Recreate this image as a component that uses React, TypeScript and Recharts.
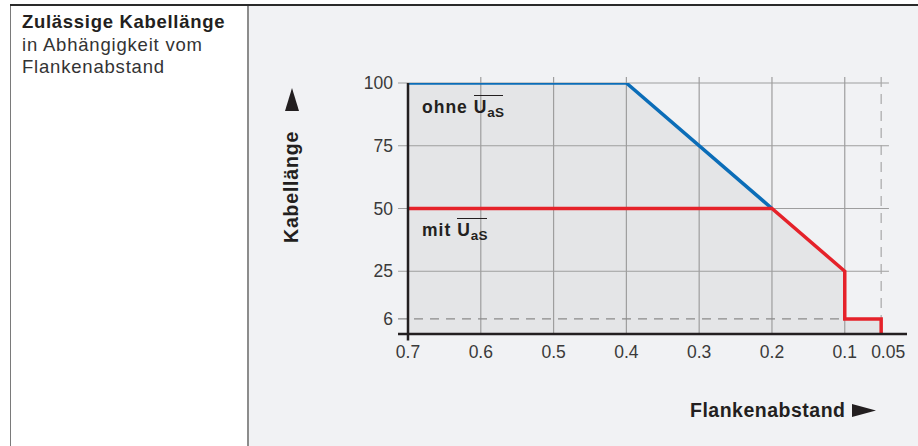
import { ComposedChart, Area, Line, XAxis, YAxis, ReferenceLine } from 'recharts';

// Flankenabstand (x) vs. Kabellänge (y)
const xTicks = [0.7, 0.6, 0.5, 0.4, 0.3, 0.2, 0.1, 0.05];
const yTicks = [6, 25, 50, 75, 100];
const gridXs = [0.6, 0.5, 0.4, 0.3, 0.2, 0.1];
const gridYs = [25, 50, 75, 100];

const ohneX = [0.7, 0.4, 0.2];
const ohneY = [100, 100, 50];
const mitX = [0.7, 0.2, 0.1, 0.1, 0.05, 0.05];
const mitY = [50, 50, 25, 6, 6, 0];
const envX = [0.7, 0.4, 0.2, 0.1, 0.1, 0.05, 0.05];
const envY = [100, 100, 50, 25, 6, 6, 0];

const ohneData = ohneX.map((x, i) => ({ x, y: ohneY[i] }));
const mitData = mitX.map((x, i) => ({ x, y: mitY[i] }));
const envData = envX.map((x, i) => ({ x, y: envY[i] }));

// overshoot of grid / axis lines, in data units
const X_MIN = 0.0145;
const X_LEFT = 0.7137;
const X_RIGHT = 0.0393;
const Y_TOP = 102.4;
const Y_BELOW = -2.6;

const FONT = '"Liberation Sans", Arial, sans-serif';
const INK = '#231f20';
const GRID = '#9e9e9e';
const BLUE = '#0b6db8';
const RED = '#e5222a';

const XTick = ({ x, y, payload }: any) => (
  <text
    x={x + (payload.value === 0.05 ? 7 : 0)}
    y={y}
    dy="0.71em"
    textAnchor="middle"
    fill="#3a3a3a"
    fontSize={17.5}
    fontFamily={FONT}
  >
    {payload.value}
  </text>
);

const UaS = () => (
  <span style={{ position: 'relative' }}>
    U
    <span style={{ position: 'relative', top: 4, fontSize: 13.5, letterSpacing: 0.3 }}>aS</span>
    <span
      style={{
        position: 'absolute',
        left: 0,
        right: 1,
        top: -2.5,
        height: 1.6,
        background: INK,
      }}
    />
  </span>
);

const labelStyle = (top: number): React.CSSProperties => ({
  position: 'absolute',
  left: 422,
  top,
  fontFamily: FONT,
  fontWeight: 'bold',
  fontSize: 17.5,
  lineHeight: '20px',
  letterSpacing: 1,
  color: INK,
  whiteSpace: 'nowrap',
});

export default function App() {
  return (
    <div style={{ position: 'absolute', left: 0, top: 0, width: 918, height: 446, overflow: 'hidden', background: '#fff' }}>
      {/* frame */}
      <div style={{ position: 'absolute', left: 10, top: 5, width: 238, height: 441, background: '#fff', borderLeft: '1px solid #7a7a7a' }} />
      <div style={{ position: 'absolute', left: 248, top: 5, width: 670, height: 441, background: '#f1f2f4' }} />
      <div style={{ position: 'absolute', left: 246.5, top: 5, width: 2, height: 441, background: '#8c8c8c' }} />
      <div style={{ position: 'absolute', left: 10, top: 4, width: 908, height: 1.6, background: '#2a2a2a' }} />

      <div style={{ position: 'absolute', left: 0, top: 0 }}>
        <ComposedChart width={918} height={446} margin={{ top: 83, right: 11, bottom: 82, left: 348 }}>
          <XAxis
            type="number"
            dataKey="x"
            domain={[X_MIN, 0.7]}
            reversed
            ticks={xTicks}
            axisLine={false}
            tickLine={false}
            tickSize={6}
            tickMargin={6}
            height={30}
            tick={<XTick />}
            allowDataOverflow
          />
          <YAxis
            type="number"
            dataKey="y"
            domain={[0, 100]}
            ticks={yTicks}
            axisLine={false}
            tickLine={false}
            tickSize={6}
            tickMargin={9}
            width={60}
            tick={{ fill: '#3a3a3a', fontSize: 17.5, fontFamily: FONT }}
            allowDataOverflow
          />
          <Area
            data={envData}
            dataKey="y"
            type="linear"
            stroke="none"
            fill="#e4e5e7"
            fillOpacity={1}
            isAnimationActive={false}
          />
          {gridXs.map((gx) => (
            <ReferenceLine
              key={'gx' + gx}
              segment={[{ x: gx, y: 0 }, { x: gx, y: Y_TOP }]}
              stroke={GRID}
              strokeWidth={1.2}
              ifOverflow="visible"
            />
          ))}
          {gridYs.map((gy) => (
            <ReferenceLine
              key={'gy' + gy}
              segment={[{ x: X_LEFT, y: gy }, { x: X_RIGHT, y: gy }]}
              stroke={GRID}
              strokeWidth={1.2}
              ifOverflow="visible"
            />
          ))}
          <ReferenceLine
            segment={[{ x: X_LEFT, y: 6 }, { x: 0.05, y: 6 }]}
            stroke="#8a8a8a"
            strokeWidth={1.2}
            strokeDasharray="9 7"
            ifOverflow="visible"
          />
          <ReferenceLine
            segment={[{ x: 0.05, y: Y_TOP }, { x: 0.05, y: 0 }]}
            stroke="#a8a8a8"
            strokeWidth={1.2}
            strokeDasharray="10 7"
            ifOverflow="visible"
          />
          <Line
            data={ohneData}
            dataKey="y"
            type="linear"
            stroke={BLUE}
            strokeWidth={3.5}
            dot={false}
            strokeLinejoin="miter"
            isAnimationActive={false}
          />
          <Line
            data={mitData}
            dataKey="y"
            type="linear"
            stroke={RED}
            strokeWidth={3.5}
            dot={false}
            strokeLinejoin="miter"
            isAnimationActive={false}
          />
          <ReferenceLine
            segment={[{ x: X_LEFT, y: 0 }, { x: X_MIN, y: 0 }]}
            stroke={INK}
            strokeWidth={2.5}
            ifOverflow="visible"
          />
          <ReferenceLine
            segment={[{ x: 0.7, y: 100 }, { x: 0.7, y: Y_BELOW }]}
            stroke={INK}
            strokeWidth={2.5}
            ifOverflow="visible"
          />
        </ComposedChart>
      </div>

      {/* texts */}
      <svg width={918} height={446} style={{ position: 'absolute', left: 0, top: 0, pointerEvents: 'none' }}>
        <g fontFamily={FONT} fill={INK}>
          <text x={22} y={28} fontSize={18.5} fontWeight="bold" style={{ letterSpacing: 0.7 }}>
            Zulässige Kabellänge
          </text>
          <text x={22} y={50.5} fontSize={18.5} fill="#333" style={{ letterSpacing: 0.8 }}>
            in Abhängigkeit vom
          </text>
          <text x={22} y={73} fontSize={18.5} fill="#333" style={{ letterSpacing: 0.8 }}>
            Flankenabstand
          </text>
          <text x={298} y={243} fontSize={19.5} fontWeight="bold" transform="rotate(-90 298 243)" style={{ letterSpacing: 0.8 }}>
            Kabellänge
          </text>
          <polygon points="285,111 292,88 299,111" />
          <text x={690} y={417} fontSize={19.5} fontWeight="bold" style={{ letterSpacing: 0.5 }}>
            Flankenabstand
          </text>
          <polygon points="852,404 876,410.5 852,417" />
        </g>
      </svg>
      <div style={labelStyle(97.2)}>
        ohne <UaS />
      </div>
      <div style={labelStyle(220.4)}>
        mit <UaS />
      </div>
    </div>
  );
}
